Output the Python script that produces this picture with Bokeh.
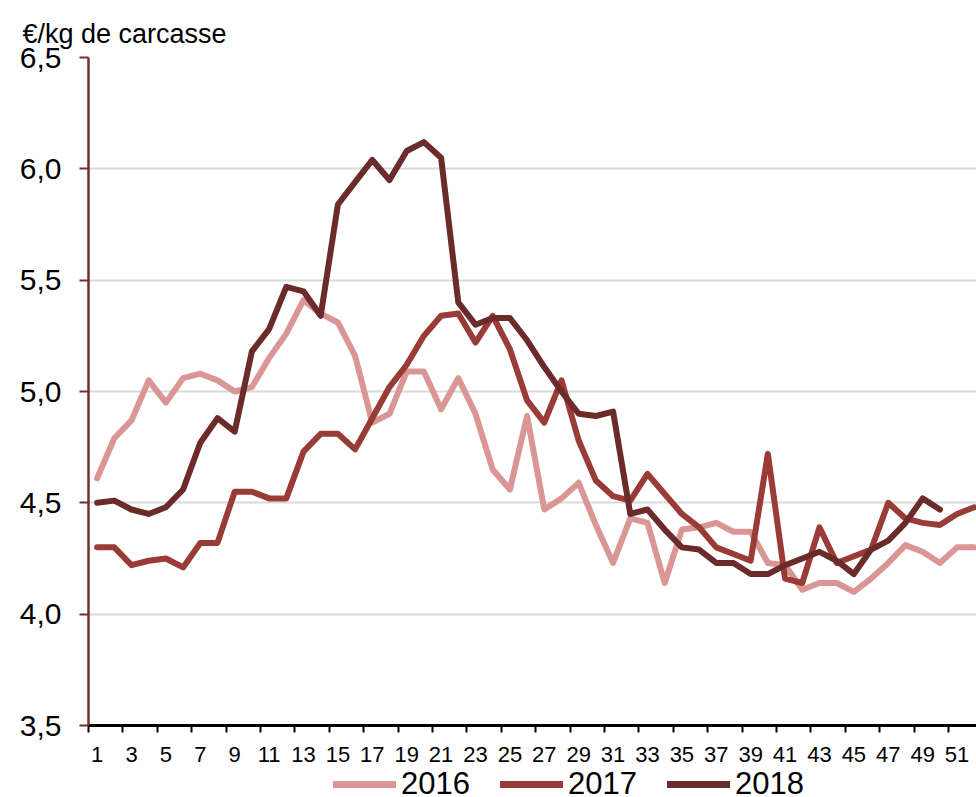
from bokeh.plotting import figure
from bokeh.layouts import column
from bokeh.models import (FixedTicker, Range1d, Legend, LegendItem, ColumnDataSource, Title)
from bokeh.embed import file_html
from bokeh.resources import INLINE

weeks = list(range(1, 53))
weeks_2018 = list(range(1, 51))

prix_2016 = [4.61, 4.79, 4.87, 5.05, 4.95, 5.06, 5.08, 5.05, 5.00, 5.02,
             5.15, 5.26, 5.41, 5.35, 5.31, 5.16, 4.86, 4.90, 5.09, 5.09,
             4.92, 5.06, 4.90, 4.65, 4.56, 4.89, 4.47, 4.52, 4.59, 4.40,
             4.23, 4.43, 4.41, 4.14, 4.38, 4.39, 4.41, 4.37, 4.37, 4.23,
             4.22, 4.11, 4.14, 4.14, 4.10, 4.16, 4.23, 4.31, 4.28, 4.23,
             4.30, 4.30]
prix_2017 = [4.30, 4.30, 4.22, 4.24, 4.25, 4.21, 4.32, 4.32, 4.55, 4.55,
             4.52, 4.52, 4.73, 4.81, 4.81, 4.74, 4.88, 5.02, 5.12, 5.25,
             5.34, 5.35, 5.22, 5.34, 5.19, 4.96, 4.86, 5.05, 4.78, 4.60,
             4.53, 4.51, 4.63, 4.54, 4.45, 4.39, 4.30, 4.27, 4.24, 4.72,
             4.16, 4.14, 4.39, 4.23, 4.26, 4.29, 4.50, 4.43, 4.41, 4.40,
             4.45, 4.48]
prix_2018 = [4.50, 4.51, 4.47, 4.45, 4.48, 4.56, 4.77, 4.88, 4.82, 5.18,
             5.28, 5.47, 5.45, 5.34, 5.84, 5.94, 6.04, 5.95, 6.08, 6.12,
             6.05, 5.40, 5.30, 5.33, 5.33, 5.23, 5.11, 5.00, 4.90, 4.89,
             4.91, 4.45, 4.47, 4.38, 4.30, 4.29, 4.23, 4.23, 4.18, 4.18,
             4.22, 4.25, 4.28, 4.24, 4.18, 4.29, 4.33, 4.41, 4.52, 4.47]

series_names = ["2016", "2017", "2018"]
series_colors = ["#D99694", "#993B37", "#6B2B2B"]

y_ticks = [3.5, 4.0, 4.5, 5.0, 5.5, 6.0, 6.5]
y_tick_labels = ["3,5", "4,0", "4,5", "5,0", "5,5", "6,0", "6,5"]
x_label_weeks = list(range(1, 52, 2))
x_tick_marks = [w - 0.5 for w in range(1, 54, 2)]

unit_label = "€/kg de carcasse"
FONT = "Liberation Sans"

p = figure(width=976, height=771, output_backend="svg", toolbar_location=None,
           x_range=Range1d(0.5, 52.13), y_range=Range1d(3.5, 6.5),
           min_border_left=88, min_border_right=0, min_border_top=57,
           min_border_bottom=46, title=None)
p.outline_line_color = None
p.background_fill_color = "white"
p.border_fill_color = "white"

series_renderers = []
for name, xs, ys, col in zip(series_names, [weeks, weeks, weeks_2018],
                             [prix_2016, prix_2017, prix_2018], series_colors):
    src = ColumnDataSource(dict(x=xs, y=ys))
    series_renderers.append(p.line("x", "y", source=src, line_color=col, line_width=6,
                                   line_join="round", line_cap="round"))

# grid
p.xgrid.grid_line_color = None
p.ygrid.ticker = FixedTicker(ticks=y_ticks)
p.ygrid.grid_line_color = "#D9D9D9"
p.ygrid.grid_line_width = 2

# y axis
ya = p.yaxis[0]
ya.ticker = FixedTicker(ticks=y_ticks)
ya.major_label_overrides = {t: l for t, l in zip(y_ticks, y_tick_labels)}
ya.axis_line_color = "#70302E"
ya.axis_line_width = 2.5
ya.major_tick_line_color = "#70302E"
ya.major_tick_line_width = 2
ya.major_tick_out = 9
ya.major_tick_in = 0
ya.minor_tick_line_color = None
ya.major_label_text_font = FONT
ya.major_label_text_font_size = "30px"
ya.major_label_text_color = "black"
ya.major_label_standoff = 18

# x axis
xa = p.xaxis[0]
xa.ticker = FixedTicker(ticks=x_label_weeks, minor_ticks=x_tick_marks)
xa.major_label_overrides = {w: str(w) for w in x_label_weeks}
xa.axis_line_color = "black"
xa.axis_line_width = 3
xa.major_tick_line_color = None
xa.minor_tick_line_color = "black"
xa.minor_tick_line_width = 2
xa.minor_tick_out = 7
xa.minor_tick_in = 0
xa.major_label_text_font = FONT
xa.major_label_text_font_size = "22px"
xa.major_label_text_color = "black"
xa.major_label_standoff = 14

# unit label as title
t = Title(text=unit_label, text_font=FONT, text_font_size="27px",
          text_font_style="normal", text_color="black", align="left",
          offset=-66, standoff=18)
p.add_layout(t, "above")

# legend strip (a separate, axis-less figure below the chart)
pl = figure(width=976, height=26, output_backend="svg", toolbar_location=None,
            x_range=Range1d(0, 976), y_range=Range1d(0, 26),
            x_axis_location=None, y_axis_location=None,
            min_border=0, min_border_left=0, min_border_right=0,
            min_border_top=0, min_border_bottom=0)
pl.grid.grid_line_color = None
pl.outline_line_color = None
pl.background_fill_color = "white"
pl.border_fill_color = "white"
leg_renderers = []
for col in series_colors:
    # the legend swatches reuse each series' style; the line sits off-view
    leg_renderers.append(pl.line(x=[-20, -10], y=[-20, -20], line_color=col,
                                 line_width=7, line_cap="round"))
legend = Legend(items=[LegendItem(label=n, renderers=[r]) for n, r in zip(series_names, leg_renderers)],
                orientation="horizontal", location=(245, -5),
                label_text_font=FONT, label_text_font_size="31px",
                label_text_color="black", glyph_width=63, glyph_height=20,
                label_standoff=5, spacing=30, padding=0, margin=0,
                background_fill_alpha=0, border_line_color=None)
pl.add_layout(legend, "center")

open("out.html", "w").write(file_html(column(p, pl, spacing=0), INLINE))
